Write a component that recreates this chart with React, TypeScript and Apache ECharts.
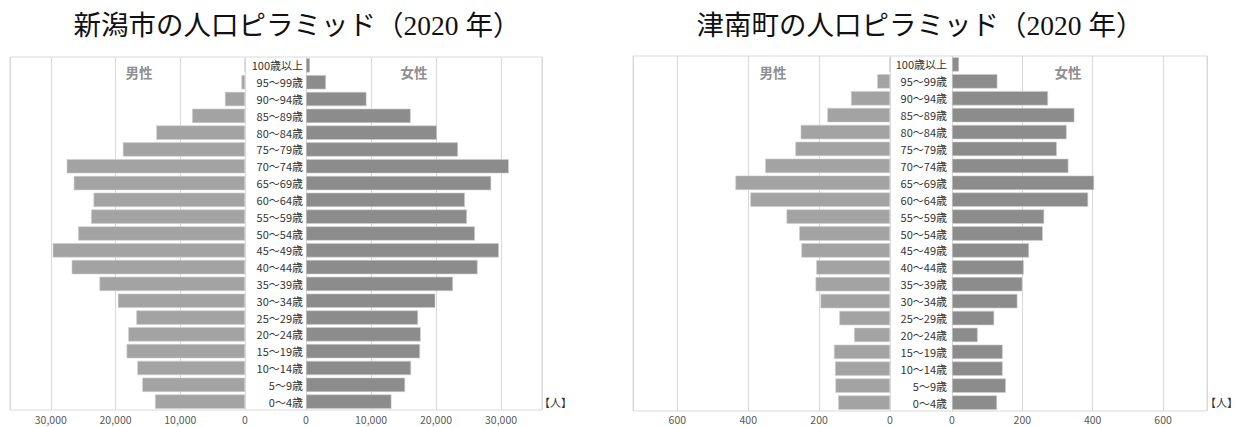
import React, { useEffect, useRef } from "react";
import * as echarts from "echarts";

const ages = [
  "0～4歳", "5～9歳", "10～14歳", "15～19歳", "20～24歳", "25～29歳", "30～34歳",
  "35～39歳", "40～44歳", "45～49歳", "50～54歳", "55～59歳", "60～64歳", "65～69歳",
  "70～74歳", "75～79歳", "80～84歳", "85～89歳", "90～94歳", "95～99歳", "100歳以上",
];

const niigataMale = [13900, 15860, 16630, 18290, 18030, 16790, 19640, 22480, 26770, 29700, 25780, 23770, 23400, 26450, 27540, 18860, 13700, 8170, 3100, 550, 80];
const niigataFemale = [13140, 15240, 16160, 17540, 17640, 17230, 19890, 22600, 26390, 29660, 25980, 24750, 24440, 28480, 31190, 23370, 20140, 16100, 9300, 3070, 610];
const tsunanMale = [146, 154, 155, 158, 101, 143, 196, 210, 208, 250, 256, 292, 394, 436, 352, 267, 252, 177, 110, 36, 2];
const tsunanFemale = [128, 153, 144, 144, 73, 120, 186, 200, 204, 219, 258, 262, 387, 404, 331, 298, 326, 348, 273, 129, 20];

const titles = ["新潟市の人口ピラミッド（2020 年）", "津南町の人口ピラミッド（2020 年）"];
const sexLabels = ["男性", "女性"];
const unitLabel = "【人】";

const SANS = "'Noto Sans CJK JP', 'Noto Sans', sans-serif";
const TITLE_FONT = "'Liberation Serif', 'Noto Sans CJK JP', serif";
const MALE_COLOR = "#a3a3a3";
const FEMALE_COLOR = "#8c8c8c";
const GRID_COLOR = "#d9d9d9";

export default function App() {
  const ref = useRef<HTMLDivElement>(null);

  useEffect(() => {
    document.body.style.margin = "0";
    if (!ref.current) return;
    const chart = echarts.init(ref.current, undefined, { renderer: "svg" });

    const grids = [
      { left: 10, top: 57, width: 235, height: 353 },
      { left: 306, top: 57, width: 236, height: 353 },
      { left: 633, top: 56, width: 257, height: 355 },
      { left: 952, top: 56, width: 255, height: 355 },
    ];
    const maxes = [36300, 36300, 725, 725];
    const intervals = [10000, 10000, 200, 200];

    const xAxes = grids.map((_, i) => ({
      type: "value",
      gridIndex: i,
      min: 0,
      max: maxes[i],
      interval: intervals[i],
      inverse: i % 2 === 0,
      axisLine: { show: false },
      axisTick: { show: false },
      splitLine: { show: true, lineStyle: { color: GRID_COLOR, width: 1 } },
      axisLabel: {
        showMaxLabel: false,
        margin: i < 2 ? 4 : 3,
        fontSize: 10.5,
        lineHeight: 11,
        color: "#595959",
        fontFamily: SANS,
        formatter: (v: number) => v.toLocaleString("en-US"),
      },
    }));

    const yAxes = grids.map((_, i) => ({
      type: "category",
      gridIndex: i,
      data: ages,
      axisLine: { show: false },
      axisTick: { show: false },
      splitLine: { show: false },
      axisLabel: {
        show: i % 2 === 1,
        margin: i === 1 ? 3 : 5,
        fontSize: 11,
        color: "#333333",
        fontFamily: SANS,
        interval: 0,
      },
    }));

    const dataSets = [niigataMale, niigataFemale, tsunanMale, tsunanFemale];
    const series = dataSets.map((d, i) => ({
      type: "bar",
      xAxisIndex: i,
      yAxisIndex: i,
      data: d,
      barCategoryGap: "15%",
      itemStyle: {
        color: i % 2 === 0 ? MALE_COLOR : FEMALE_COLOR,
        borderColor: "#cfcfcf",
        borderWidth: 0.6,
      },
      silent: true,
    }));

    const text = (x: number, y: number, t: string, style: any) => ({
      type: "text",
      x,
      y,
      style: { text: t, align: "center", verticalAlign: "middle", ...style },
    });

    const graphic: any[] = [
      { type: "rect", shape: { x: 10, y: 57, width: 532, height: 353 }, style: { fill: "none", stroke: GRID_COLOR, lineWidth: 1 } },
      { type: "rect", shape: { x: 633, y: 56, width: 574, height: 355 }, style: { fill: "none", stroke: GRID_COLOR, lineWidth: 1 } },
      text(297, 25, titles[0], { fontSize: 27.5, fontFamily: TITLE_FONT, fill: "#111111" }),
      text(920, 25, titles[1], { fontSize: 27.5, fontFamily: TITLE_FONT, fill: "#111111" }),
      text(139, 72, sexLabels[0], { fontSize: 13.5, fontWeight: "bold", fontFamily: SANS, fill: "#8f8f8f" }),
      text(414, 72, sexLabels[1], { fontSize: 13.5, fontWeight: "bold", fontFamily: SANS, fill: "#8f8f8f" }),
      text(773, 72, sexLabels[0], { fontSize: 13.5, fontWeight: "bold", fontFamily: SANS, fill: "#8f8f8f" }),
      text(1068, 72, sexLabels[1], { fontSize: 13.5, fontWeight: "bold", fontFamily: SANS, fill: "#8f8f8f" }),
      text(572, 402, unitLabel, { fontSize: 11, fontFamily: SANS, fill: "#333333", align: "right" }),
      text(1238, 402, unitLabel, { fontSize: 11, fontFamily: SANS, fill: "#333333", align: "right" }),
    ];

    chart.setOption({
      animation: false,
      backgroundColor: "#ffffff",
      grid: grids.map((g) => ({ ...g, containLabel: false })),
      xAxis: xAxes,
      yAxis: yAxes,
      series,
      graphic,
    } as any);

    return () => chart.dispose();
  }, []);

  return <div ref={ref} style={{ width: 1239, height: 427 }} />;
}
